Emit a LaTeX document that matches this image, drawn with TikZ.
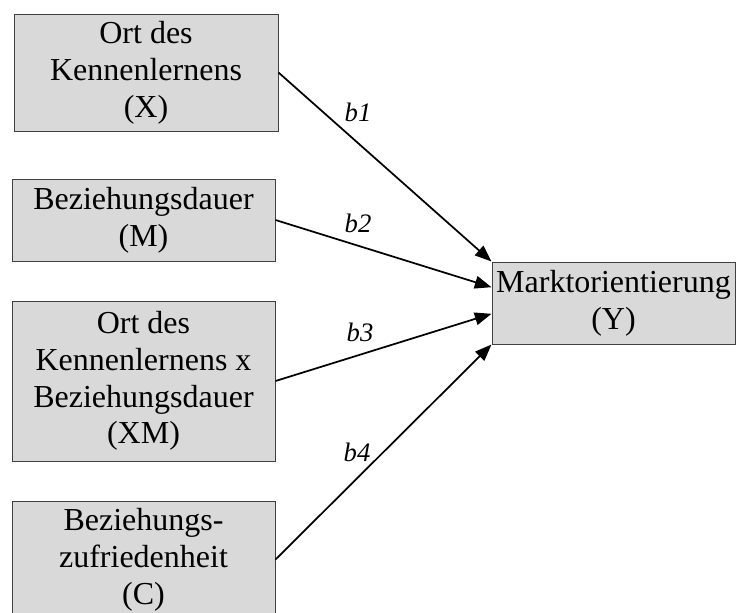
\documentclass[tikz,border=0pt]{standalone}
\usepackage{fontspec}
\setmainfont{Liberation Serif}
\usetikzlibrary{positioning,arrows.meta,calc}

\begin{document}
\begin{tikzpicture}[x=0.75pt,y=-0.75pt,>={Triangle[length=12.5pt,width=9.5pt]},
		var/.style={rectangle,draw=black!75,fill=black!15,line width=0.75pt,align=center,
			font=\fontsize{24}{27.6}\selectfont,inner sep=0pt,minimum width=197.25pt},
		coef/.style={font=\fontsize{20}{24}\selectfont\itshape},
		eff/.style={->,line width=1.3pt}]
			
			\useasboundingbox (0,0) rectangle (739,612);
			
			\node[var,minimum width=198pt,minimum height=87.75pt] (x) at (146,72.5) {Ort des\\Kennenlernens\\(X)};
			\node[var,minimum height=61.5pt] (m) at (143.5,220) {Beziehungsdauer\\(M)};
			\node[var,minimum height=120pt] (xm) at (143.5,381) {Ort des\\Kennenlernens x\\Beziehungsdauer\\(XM)};
			\node[var,minimum height=87.75pt] (c) at (143.5,559.5) {Beziehungs-\\zufriedenheit\\(C)};
			
			\node[var,minimum width=182.25pt,minimum height=61.5pt] (y) at (613.5,303) {Marktorientierung\\(Y)};
			
			\coordinate (y1) at (y.north west);
			\coordinate (y2) at ($(y.north west)!.31!(y.south west)$);
			\coordinate (y3) at ($(y.north west)!.63!(y.south west)$);
			\coordinate (y4) at (y.south west);
			
			\draw[eff] (x.east)--(y1);
			\draw[eff] (m.east)--(y2);
			\draw[eff] (xm.east)--(y3);
			\draw[eff] (c.east)--(y4);
			
			\node[coef] (b1) at (358,112) {b1};
			\node[coef] (b2) at (358,223) {b2};
			\node[coef] (b3) at (360,332) {b3};
			\node[coef] (b4) at (357,452) {b4};
			
		\end{tikzpicture}
\end{document}
